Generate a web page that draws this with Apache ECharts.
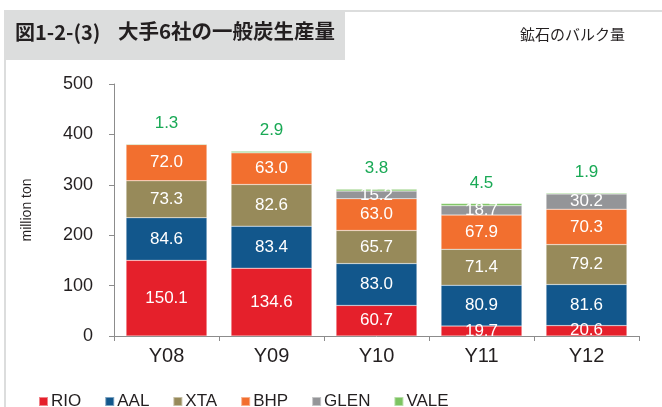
<!DOCTYPE html>
<html>
<head>
<meta charset="utf-8">
<script src="https://cdn.jsdelivr.net/npm/echarts@6/dist/echarts.min.js"></script>
<style>
  html, body { margin: 0; padding: 0; background: #fff; }
  #main { width: 662px; height: 407px; }
</style>
</head>
<body>
<div id="main"></div>
<script>
// data
var years = ['Y08', 'Y09', 'Y10', 'Y11', 'Y12'];
var rio  = [150.1, 134.6, 60.7, 19.7, 20.6];
var aal  = [84.6, 83.4, 83.0, 80.9, 81.6];
var xta  = [73.3, 82.6, 65.7, 71.4, 79.2];
var bhp  = [72.0, 63.0, 63.0, 67.9, 70.3];
var glen = [0, 0, 15.2, 18.7, 30.2];
var vale = [1.3, 2.9, 3.8, 4.5, 1.9];

var font = '"Liberation Sans", Arial, sans-serif';
var jpFont = '"Noto Sans CJK JP", sans-serif';

function seg(name, data, color) {
  return {
    name: name,
    type: 'bar',
    stack: 'total',
    barWidth: '77%',
    data: data,
    itemStyle: { color: color, borderColor: 'rgba(255,255,255,0.45)', borderWidth: 0.5 },
    label: {
      show: true,
      position: 'inside',
      color: '#fff',
      fontSize: 17,
      fontFamily: font,
      formatter: function (p) { return p.value > 0 ? p.value.toFixed(1) : ''; }
    }
  };
}

var myChart = echarts.init(document.getElementById('main'));

var valeSeries = seg('VALE', vale, '#7dc462');
valeSeries.label = {
  show: true,
  position: 'top',
  distance: 12,
  color: '#19a955',
  fontSize: 17,
  fontFamily: font,
  formatter: function (p) { return p.value.toFixed(1); }
};

var option = {
  animation: false,
  backgroundColor: '#fff',
  graphic: [
    { type: 'rect', shape: { x: 4, y: 10, width: 341, height: 50 }, style: { fill: '#dcdddd' } },
    { type: 'line', shape: { x1: 4, y1: 11, x2: 662, y2: 11 }, style: { stroke: '#dcdddd', lineWidth: 2 } },
    { type: 'line', shape: { x1: 5, y1: 10, x2: 5, y2: 407 }, style: { stroke: '#dcdddd', lineWidth: 2 } },
    { type: 'text', left: 15, top: 22, style: { text: '図1-2-(3)', fontSize: 20, fontWeight: 'bold', fontFamily: jpFont, fill: '#231f20' } },
    { type: 'text', left: 118, top: 21, style: { text: '大手6社の一般炭生産量', fontSize: 20.5, fontWeight: 'bold', fontFamily: jpFont, fill: '#231f20' } },
    { type: 'text', left: 520, top: 27, style: { text: '鉱石のバルク量', fontSize: 15, fontFamily: jpFont, fill: '#231f20' } }
  ],
  legend: {
    left: 33,
    top: 388,
    itemWidth: 9,
    itemHeight: 9,
    itemGap: 23,
    icon: 'rect',
    textStyle: { fontSize: 17, fontFamily: font, color: '#231f20', padding: [0, 0, 0, -2] },
    data: ['RIO', 'AAL', 'XTA', 'BHP', 'GLEN', 'VALE']
  },
  grid: { left: 114, top: 84, width: 525, bottom: 71 },
  xAxis: {
    type: 'category',
    data: years,
    axisLine: { lineStyle: { color: '#8c8c8c' } },
    axisTick: { show: true, length: 5, lineStyle: { color: '#8c8c8c' } },
    axisLabel: { fontSize: 20, fontFamily: font, color: '#231f20', margin: 10 }
  },
  yAxis: {
    type: 'value',
    min: 0,
    max: 500,
    interval: 100,
    name: 'million ton',
    nameLocation: 'middle',
    nameGap: 80,
    nameTextStyle: { fontSize: 14, fontFamily: font, color: '#231f20' },
    axisLine: { show: true, lineStyle: { color: '#8c8c8c' } },
    axisTick: { show: true, inside: false, length: 5, lineStyle: { color: '#8c8c8c' } },
    splitLine: { show: false },
    axisLabel: { fontSize: 18, fontFamily: font, color: '#231f20', margin: 21 }
  },
  series: [
    seg('RIO', rio, '#e5202b'),
    seg('AAL', aal, '#12578c'),
    seg('XTA', xta, '#978a5a'),
    seg('BHP', bhp, '#f26f2f'),
    seg('GLEN', glen, '#949598'),
    valeSeries
  ]
};

myChart.setOption(option);
</script>
</body>
</html>
